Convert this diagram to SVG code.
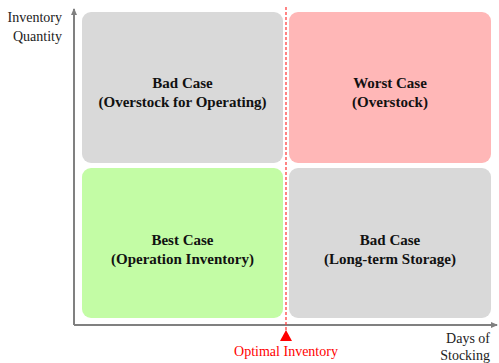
<svg xmlns="http://www.w3.org/2000/svg" width="499" height="363" viewBox="0 0 499 363">
<style>
.box{stroke:none}
.gray{fill:#d9d9d9}
.pink{fill:#ffb7b7}
.green{fill:#c3fca5}
.lbl{font-family:"Liberation Serif","Times New Roman",serif;font-size:15px;font-weight:bold;fill:#111;text-anchor:middle}
.ax{font-family:"Liberation Serif","Times New Roman",serif;font-size:14px;fill:#222}
.axis{stroke:#808080;stroke-width:2;fill:none}
</style>
<defs>
<marker id="arr" markerWidth="8" markerHeight="8" refX="6" refY="4" orient="auto" markerUnits="userSpaceOnUse">
<path d="M0,1 L7,4 L0,7 Z" fill="#808080"/>
</marker>
</defs>
<g id="connectors">
<path class="axis" d="M74,325 L74,9" marker-end="url(#arr)"/>
<path class="axis" d="M74,325 L497,325" marker-end="url(#arr)"/>
</g>
<g id="bad-operating">
<rect class="box gray" x="82" y="12" width="201" height="151" rx="9"/>
<text class="lbl" x="182.5" y="88">Bad Case</text>
<text class="lbl" x="182.5" y="107">(Overstock for Operating)</text>
</g>
<g id="worst">
<rect class="box pink" x="289" y="12" width="202" height="151" rx="9"/>
<text class="lbl" x="390" y="88">Worst Case</text>
<text class="lbl" x="390" y="107">(Overstock)</text>
</g>
<g id="best">
<rect class="box green" x="82" y="168" width="201" height="150" rx="9"/>
<text class="lbl" x="182.5" y="245">Best Case</text>
<text class="lbl" x="182.5" y="264">(Operation Inventory)</text>
</g>
<g id="bad-longterm">
<rect class="box gray" x="289" y="168" width="202" height="150" rx="9"/>
<text class="lbl" x="390" y="245">Bad Case</text>
<text class="lbl" x="390" y="264">(Long-term Storage)</text>
</g>
<g id="optimal">
<line x1="286" y1="7" x2="286" y2="330" stroke="#ff3333" stroke-width="1.2" stroke-dasharray="3,2"/>
<polygon points="280,341 286,330 292,341" fill="#ff0000"/>
<text x="286" y="356" font-family="Liberation Serif, Times New Roman, serif" font-size="14" fill="#ff0000" text-anchor="middle">Optimal Inventory</text>
</g>
<g id="y-label">
<text class="ax" x="62" y="22" text-anchor="end">Inventory</text>
<text class="ax" x="62" y="41" text-anchor="end">Quantity</text>
</g>
<g id="x-label">
<text class="ax" x="490" y="343" text-anchor="end">Days of</text>
<text class="ax" x="490" y="360" text-anchor="end">Stocking</text>
</g>
</svg>
